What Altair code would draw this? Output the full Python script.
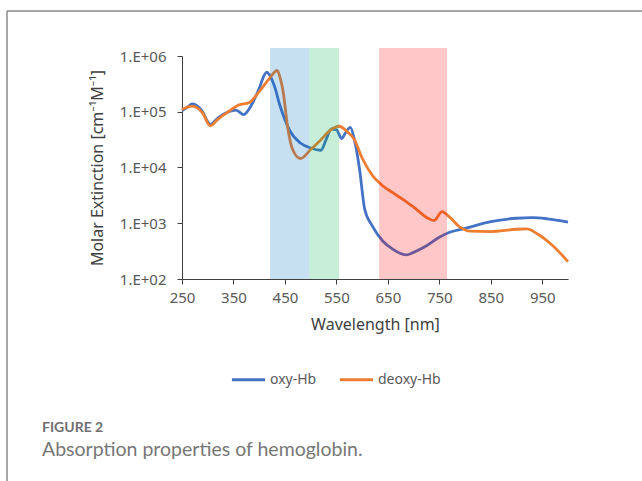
import altair as alt
import pandas as pd

# --- data ---
oxy_wl = [250, 260, 270, 280, 290, 300, 305, 320, 340, 355, 370, 385, 400, 410, 415, 420, 430, 440, 450,
          460, 480, 500, 520, 530, 540, 550, 560, 567, 577, 585, 595, 605, 620, 640, 660, 686, 700, 720,
          750, 770, 800, 850, 900, 930, 960, 1000]
oxy_val = [105000, 120000, 138000, 126000, 100000, 66000, 59000, 78000, 100000, 107000, 89000, 132000,
           263000, 457000, 513000, 457000, 282000, 132000, 72000, 45000, 27500, 22400, 20400, 31600, 49000,
           48000, 33000, 41000, 52500, 31600, 9300, 1780, 890, 480, 340, 270, 300, 370, 560, 690, 810, 1070,
           1230, 1260, 1200, 1050]

deoxy_wl = [250, 270, 280, 290, 305, 320, 340, 360, 380, 400, 420, 435, 440, 447, 455, 465, 480, 500, 520,
            540, 555, 570, 585, 600, 620, 640, 660, 680, 700, 730, 740, 755, 770, 790, 810, 850, 900, 920,
            940, 970, 1000]
deoxy_val = [110000, 126000, 117000, 95000, 56000, 74000, 100000, 132000, 145000, 229000, 398000, 550000,
             427000, 214000, 55000, 21000, 14500, 21000, 31600, 48000, 55000, 45000, 31600, 14800, 7200, 4700,
             3500, 2650, 1950, 1200, 1120, 1620, 1290, 850, 720, 710, 780, 790, 650, 400, 205]

series_names = ["oxy-Hb", "deoxy-Hb"]
series_colors = ["#4472C4", "#ED7D31"]

band_start = [421, 497, 633]
band_end = [497, 555, 765]
band_colors = ["#0070C0", "#00B050", "#FF0000"]
band_top = 1.39e6

x_ticks = [250, 350, 450, 550, 650, 750, 850, 950]
y_ticks = [1e2, 1e3, 1e4, 1e5, 1e6]

caption_label = "FIGURE 2"
caption_text = "Absorption properties of hemoglobin."

# --- tables ---
lines_df = pd.concat([
    pd.DataFrame({"wl": oxy_wl, "val": oxy_val, "series": series_names[0], "order": range(len(oxy_wl))}),
    pd.DataFrame({"wl": deoxy_wl, "val": deoxy_val, "series": series_names[1], "order": range(len(deoxy_wl))}),
])
bands_df = pd.DataFrame({"x0": band_start, "x1": band_end, "c": band_colors, "top": band_top, "bot": 100})

FONT = "Noto Sans"
TXT = "#595959"

x_scale = alt.Scale(domain=[250, 1000], nice=False, zero=False)
y_scale = alt.Scale(type="log", domain=[100, 1e6], nice=False)

lines = alt.Chart(lines_df).mark_line(strokeWidth=2.8, interpolate="monotone").encode(
    x=alt.X("wl:Q", scale=x_scale,
            axis=alt.Axis(values=x_ticks, title="Wavelength [nm]", grid=False, tickSize=5,
                          labelPadding=6, titlePadding=11, labelFlush=False)),
    y=alt.Y("val:Q", scale=y_scale,
            axis=alt.Axis(values=y_ticks, title="Molar Extinction [cm⁻¹M⁻¹]", grid=False, tickSize=5,
                          labelPadding=11, titlePadding=14, labelFlush=False,
                          labelExpr="'1.E+0' + round(log(datum.value)/LN10)")),
    color=alt.Color("series:N", scale=alt.Scale(domain=series_names, range=series_colors),
                    legend=alt.Legend(title=None, orient="none", legendX=48, legendY=305,
                                      direction="horizontal", symbolType="stroke", symbolSize=1100,
                                      symbolStrokeWidth=3, labelFontSize=14, labelFont=FONT,
                                      labelColor=TXT, columnPadding=16, labelOffset=3)),
    order="order:Q",
    detail="series:N",
)

bands = alt.Chart(bands_df).mark_rect(opacity=0.22).encode(
    x=alt.X("x0:Q", scale=x_scale),
    x2="x1:Q",
    y=alt.Y("top:Q", scale=y_scale),
    y2="bot:Q",
    color=alt.Color("c:N", scale=None, legend=None),
)

cap1 = alt.Chart(alt.Data(values=[{"t": caption_label}])).mark_text(
    align="left", baseline="middle", font="Lato", fontSize=14, fontWeight="bold", color="#707070"
).encode(text="t:N", x=alt.value(-140), y=alt.value(372))

cap2 = alt.Chart(alt.Data(values=[{"t": caption_text}])).mark_text(
    align="left", baseline="middle", font="Lato", fontSize=19.5, color="#777777"
).encode(text="t:N", x=alt.value(-140), y=alt.value(394))

frame_v = alt.Chart(alt.Data(values=[{}])).mark_rule(color="#8a8a8a", strokeWidth=1.5).encode(
    x=alt.value(-175), y=alt.value(-45), y2=alt.value(430))
frame_h = alt.Chart(alt.Data(values=[{}])).mark_rule(color="#8a8a8a", strokeWidth=1.5).encode(
    x=alt.value(-175), x2=alt.value(470), y=alt.value(-45))

chart = alt.layer(lines, bands, cap1, cap2, frame_v, frame_h).resolve_scale(color="independent").properties(
    width=386, height=223,
    autosize=alt.AutoSizeParams(type="none"),
    padding={"left": 182, "top": 56, "right": 74, "bottom": 202},
    background="white",
).configure_view(stroke=None).configure_axis(
    labelFont=FONT, titleFont=FONT, labelFontSize=15, titleFontSize=16,
    labelColor=TXT, titleColor="#404040", titleFontWeight="normal",
    domainColor="#404040", tickColor="#404040",
)

chart.save("out.html", embed_options={"renderer": "svg", "actions": False})
